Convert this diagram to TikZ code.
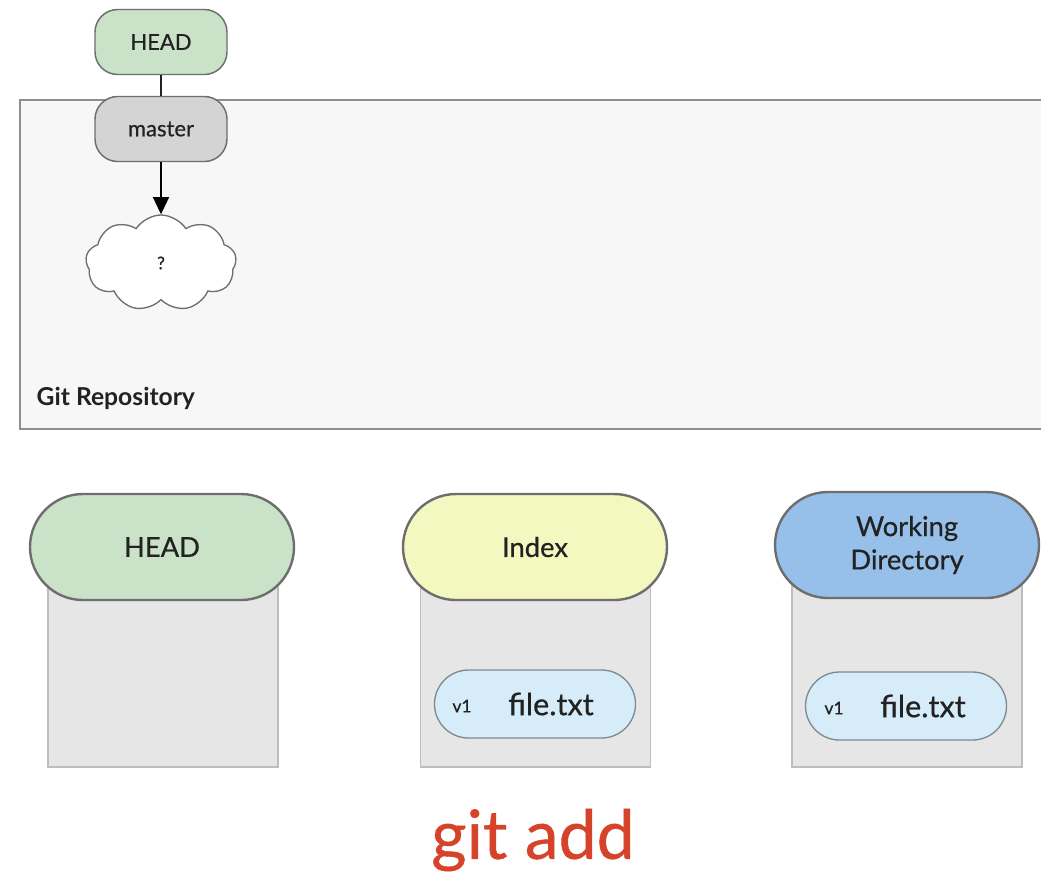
\documentclass[tikz,border=0pt]{standalone}
\usepackage{fontspec}
\setmainfont{Lato}
\newfontfamily\medfont[FakeBold=0.6]{Lato}
\usetikzlibrary{shapes.misc,shapes.symbols,arrows.meta}
\definecolor{repofill}{HTML}{F7F7F7}
\definecolor{repoline}{HTML}{8E8E8E}
\definecolor{headgreen}{HTML}{CAE3C8}
\definecolor{mastergray}{HTML}{D4D4D4}
\definecolor{idxyellow}{HTML}{F3F8C0}
\definecolor{wdblue}{HTML}{96C0EA}
\definecolor{boxgray}{HTML}{E6E6E6}
\definecolor{boxline}{HTML}{BDBDBD}
\definecolor{pillblue}{HTML}{D6ECF8}
\definecolor{pillline}{HTML}{7D8B90}
\definecolor{capline}{HTML}{6E6E6E}
\definecolor{gitred}{HTML}{D5442A}
\definecolor{txt}{HTML}{222222}
\tikzset{
  refbox/.style={draw=capline, line width=1.1pt, rounded corners=17pt, minimum width=99pt, minimum height=48.75pt, inner sep=0pt, font=\medfont\fontsize{16.5}{18}\selectfont, text=txt},
  capsule/.style={rounded rectangle, draw=capline, line width=1.8pt, minimum width=198pt, minimum height=79.5pt, inner sep=0pt, font=\medfont\fontsize{20.5}{25}\selectfont, text=txt, align=center},
  area/.style={draw=boxline, fill=boxgray, line width=1pt, minimum width=172.5pt, minimum height=155.25pt, inner sep=0pt},
  pill/.style={rounded rectangle, draw=pillline, fill=pillblue, line width=1pt, minimum width=150.75pt, minimum height=51pt, inner sep=0pt},
  vlabel/.style={font=\medfont\fontsize{13}{14}\selectfont, text=txt, inner sep=0pt},
  flabel/.style={font=\medfont\fontsize{23}{26}\selectfont, text=txt, inner sep=0pt},
}
\begin{document}
\begin{tikzpicture}[x=0.75pt, y=-0.75pt]
\useasboundingbox (0,0) rectangle (1041,876);
\clip (0,0) rectangle (1041,876);
\fill[white] (0,0) rectangle (1041,876);
% repository
\draw[repoline, fill=repofill, line width=1.6pt] (1060,100) -- (20,100) -- (20,429) -- (1060,429);
\node[anchor=base west, font=\bfseries\fontsize{18.5}{20}\selectfont, text=txt] (repo) at (32,405) {Git Repository};
% top refs
\node[refbox, fill=headgreen] (head) at (161,42) {HEAD};
\node[refbox, fill=mastergray] (master) at (161,129) {master};
\draw[txt, line width=1.2pt] (head.south) -- (master.north);
\node[cloud, cloud puffs=9, cloud puff arc=115, aspect=1.6, draw=capline, fill=white, line width=1pt, minimum width=113pt, minimum height=72pt, inner sep=0pt, font=\medfont\fontsize{13}{14}\selectfont, text=txt] (commit) at (161,263) {?};
\draw[black, line width=1.5pt, -{Triangle[length=13pt,width=12pt]}] (master.south) -- (commit.north);
% three trees
\node[area] (headarea) at (163,663.5) {};
\node[capsule, fill=headgreen] (headtree) at (162,547) {HEAD};
\node[area] (idxarea) at (535.5,663.5) {};
\node[capsule, fill=idxyellow] (idxtree) at (535,547) {Index};
\node[area] (wdarea) at (907,663.5) {};
\node[capsule, fill=wdblue] (wdtree) at (907,545) {Working\\Directory};
% files
\node[pill] (idxfile) at (535,704) {};
\node[vlabel] (idxv) at (462,706) {v1};
\node[flabel] (idxname) at (551,704) {file.txt};
\node[pill] (wdfile) at (906,706) {};
\node[vlabel] (wdv) at (834,708) {v1};
\node[flabel] (wdname) at (923,706) {file.txt};
% command
\node[font=\medfont\fontsize{51}{55}\selectfont, text=gitred] (cmd) at (533,840) {git add};
\end{tikzpicture}
\end{document}
